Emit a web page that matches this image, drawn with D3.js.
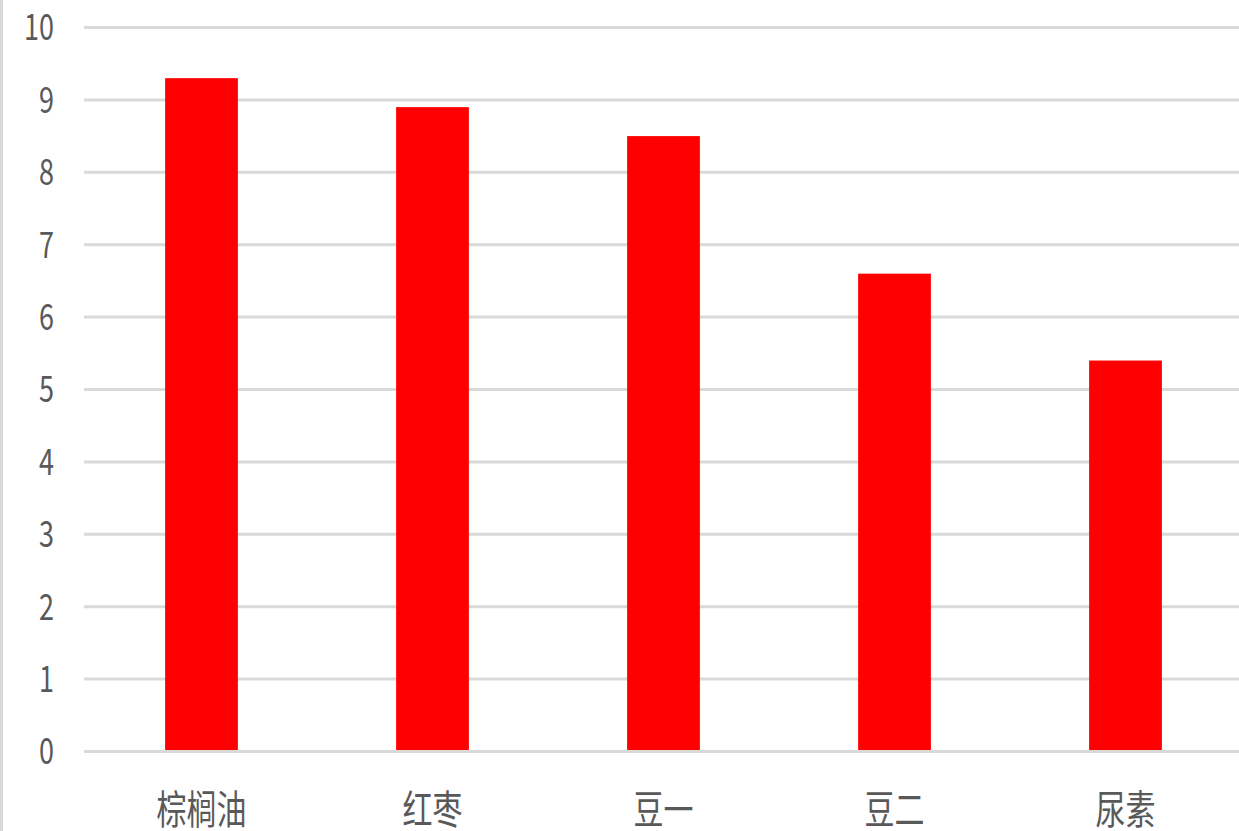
<!DOCTYPE html>
<html>
<head>
<meta charset="utf-8">
<script src="https://cdn.jsdelivr.net/npm/d3@7"></script>
<style>
  body { margin: 0; background: #fff; }
  svg { display: block; }
  text { font-family: "Noto Sans CJK SC", "Noto Sans", sans-serif; fill: #595959; }
</style>
</head>
<body>
<svg id="chart" width="1239" height="831"></svg>
<script>
// categories and values
const categories = ['棕榈油', '红枣', '豆一', '豆二', '尿素']
const values = [9.3, 8.9, 8.5, 6.6, 5.4]
const yTicks = [0, 1, 2, 3, 4, 5, 6, 7, 8, 9, 10]

const svg = d3.select('#chart')
const squash = 0.75   // the glyphs in the reference are narrow

const x = d3.scaleBand()
    .domain(categories)
    .range([86, 1241])
    .paddingInner(0.685)
    .paddingOuter(0.3425)

const y = d3.scaleLinear()
    .domain([0, 10])
    .range([751.5, 27.5])

// left border
svg.append('line')
    .attr('x1', 1.5).attr('x2', 1.5)
    .attr('y1', 0).attr('y2', 831)
    .attr('stroke', '#d9d9d9')
    .attr('stroke-width', 3)

// gridlines
svg.append('g')
    .selectAll('line')
    .data(yTicks)
    .enter()
    .append('line')
    .attr('x1', 84)
    .attr('x2', 1239)
    .attr('y1', d => y(d))
    .attr('y2', d => y(d))
    .attr('stroke', '#d9d9d9')
    .attr('stroke-width', 3)

// y tick labels
svg.append('g')
    .selectAll('text')
    .data(yTicks)
    .enter()
    .append('text')
    .attr('transform', d => `translate(54,${y(d)}) scale(${squash},1)`)
    .attr('text-anchor', 'end')
    .attr('dy', '0.36em')
    .attr('font-size', 36)
    .text(d => d)

// bars
svg.append('g')
    .selectAll('rect')
    .data(values)
    .enter()
    .append('rect')
    .attr('x', (d, i) => x(categories[i]))
    .attr('width', x.bandwidth())
    .attr('y', d => y(d))
    .attr('height', d => y(0) - y(d) - 1.5)
    .attr('fill', '#ff0000')

// category labels
svg.append('g')
    .selectAll('text')
    .data(categories)
    .enter()
    .append('text')
    .attr('transform', d => `translate(${x(d) + x.bandwidth() / 2},810) scale(${squash},1)`)
    .attr('text-anchor', 'middle')
    .attr('dy', '0.36em')
    .attr('font-size', 40)
    .text(d => d)
</script>
</body>
</html>
